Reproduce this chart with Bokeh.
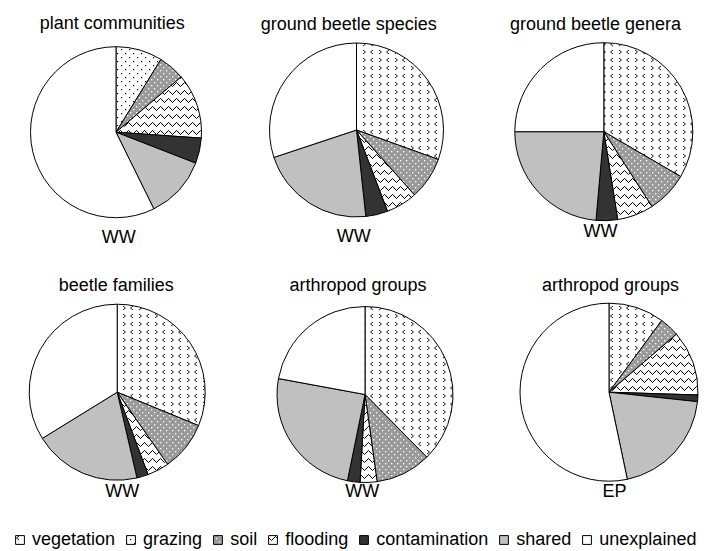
import math
from urllib.parse import quote
from bokeh.plotting import figure
from bokeh.models import ColumnDataSource, Range1d, Legend, LegendItem, ImageURLTexture
from bokeh.core.properties import value
from bokeh.embed import file_html
from bokeh.resources import INLINE

# ---------------- data ----------------
categories = ["vegetation", "grazing", "soil", "flooding", "contamination", "shared", "unexplained"]
panel_titles = ["plant communities", "ground beetle species", "ground beetle genera",
                "beetle families", "arthropod groups", "arthropod groups"]
panel_labels = ["WW", "WW", "WW", "WW", "WW", "EP"]

plant_communities = [0.0, 8.8, 5.0, 12.3, 4.8, 11.8, 57.3]
ground_beetle_species = [30.5, 0.0, 7.9, 5.8, 4.1, 21.6, 30.1]
ground_beetle_genera = [33.4, 0.0, 7.5, 6.6, 3.9, 23.6, 25.0]
beetle_families = [31.2, 0.0, 9.1, 4.0, 2.1, 19.8, 33.8]
arthropod_groups_ww = [37.6, 0.0, 10.2, 3.1, 2.3, 24.7, 22.1]
arthropod_groups_ep = [10.1, 0.0, 3.6, 11.8, 1.2, 20.0, 53.3]

panels = [plant_communities, ground_beetle_species, ground_beetle_genera,
          beetle_families, arthropod_groups_ww, arthropod_groups_ep]

# ---------------- layout (page pixels) ----------------
W, H = 704, 551
pie_cx = [115.5, 356.0, 603.3, 116.7, 364.5, 608.5]
pie_cy = [131.7, 129.5, 131.2, 391.7, 394.0, 391.7]
pie_r = [85.5, 87.0, 89.0, 88.0, 88.0, 89.0]
title_pos = [(111.7, 22.5), (348.3, 23.0), (595.0, 23.0), (115.8, 284.0), (357.5, 284.0), (610.0, 284.0)]
label_pos = [(118.3, 236.0), (353.3, 235.0), (600.0, 230.0), (121.7, 490.0), (361.7, 490.0), (614.0, 490.0)]

def fx(px):
    return px

def fy(py):
    return H - py

FONT = "Liberation Sans"

p = figure(width=W, height=H, output_backend="svg", toolbar_location=None,
           x_range=Range1d(0, W), y_range=Range1d(0, H),
           x_axis_type=None, y_axis_type=None, min_border=0,
           outline_line_color=None, background_fill_color="white",
           border_fill_color="white")
p.grid.visible = False

def svg_tile(size, body):
    svg = ('<svg xmlns="http://www.w3.org/2000/svg" width="%d" height="%d">%s</svg>'
           % (size, size, body))
    return "data:image/svg+xml," + quote(svg)

veg_tile = svg_tile(16, '<path d="M5 2 L2.5 4 L5 6 M11 2 L13.5 4 L11 6 '
                        'M5 10 L2.5 12 L5 14 M11 10 L13.5 12 L11 14" '
                        'stroke="black" stroke-width="0.9" fill="none"/>')
dot_tile = svg_tile(8, '<rect x="1" y="1" width="1.2" height="1.2" fill="black"/>'
                       '<rect x="5" y="5" width="1.2" height="1.2" fill="black"/>')
wdot_tile = svg_tile(6, '<rect x="1" y="1" width="1.3" height="1.3" fill="white"/>'
                        '<rect x="4" y="4" width="1.3" height="1.3" fill="white"/>')

styles = {
    "vegetation": dict(fill_color="white", hatch=("url", veg_tile, 16, "black")),
    "grazing": dict(fill_color="white", hatch=("url", dot_tile, 8, "black")),
    "soil": dict(fill_color="#9a9a9a", hatch=("url", wdot_tile, 6, "white")),
    "flooding": dict(fill_color="white", hatch=("builtin", "v", 8, "black")),
    "contamination": dict(fill_color="#333333", hatch=None),
    "shared": dict(fill_color="#c0c0c0", hatch=None),
    "unexplained": dict(fill_color="white", hatch=None),
}

renderers = {}
for ci, cat in enumerate(categories):
    xs, ys, rs, starts, ends = [], [], [], [], []
    for pi, vals in enumerate(panels):
        total = sum(vals)
        before = sum(vals[:ci]) / total * 360.0
        after = sum(vals[:ci + 1]) / total * 360.0
        if vals[ci] <= 0:
            continue
        xs.append(fx(pie_cx[pi]))
        ys.append(fy(pie_cy[pi]))
        rs.append(pie_r[pi])
        starts.append(math.radians(90.0 - after))
        ends.append(math.radians(90.0 - before))
    src = ColumnDataSource(dict(x=xs, y=ys, r=rs, start=starts, end=ends))
    st = styles[cat]
    kw = dict(fill_color=st["fill_color"], line_color="black", line_width=1)
    if st["hatch"] is not None:
        kind, pat, scale, hcol = st["hatch"]
        if kind == "url":
            key = "tex_" + cat
            kw.update(hatch_pattern=value(key), hatch_extra={key: ImageURLTexture(url=pat)},
                      hatch_scale=scale, hatch_color=hcol)
        else:
            kw.update(hatch_pattern=pat, hatch_scale=scale, hatch_color=hcol, hatch_weight=1)
    r = p.wedge(x="x", y="y", radius="r", start_angle="start", end_angle="end",
                direction="anticlock", source=src, **kw)
    renderers[cat] = r

# titles and labels
p.text(x=[fx(a) for a, b in title_pos], y=[fy(b) for a, b in title_pos], text=panel_titles,
       text_font=value(FONT), text_font_size="18px", text_color="black",
       text_align="center", text_baseline="middle")
p.text(x=[fx(a) for a, b in label_pos], y=[fy(b) for a, b in label_pos], text=panel_labels,
       text_font=value(FONT), text_font_size="18px", text_color="black",
       text_align="center", text_baseline="middle")

legend = Legend(items=[LegendItem(label=c, renderers=[renderers[c]]) for c in categories],
                orientation="horizontal", location=(14, 1),
                glyph_width=11, glyph_height=11, label_standoff=7, spacing=10,
                padding=0, margin=0, border_line_color=None, background_fill_alpha=0,
                label_text_font=FONT, label_text_font_size="18px", label_height=12,
                label_text_color="black")
p.add_layout(legend, "center")

open("out.html", "w").write(file_html(p, INLINE))
